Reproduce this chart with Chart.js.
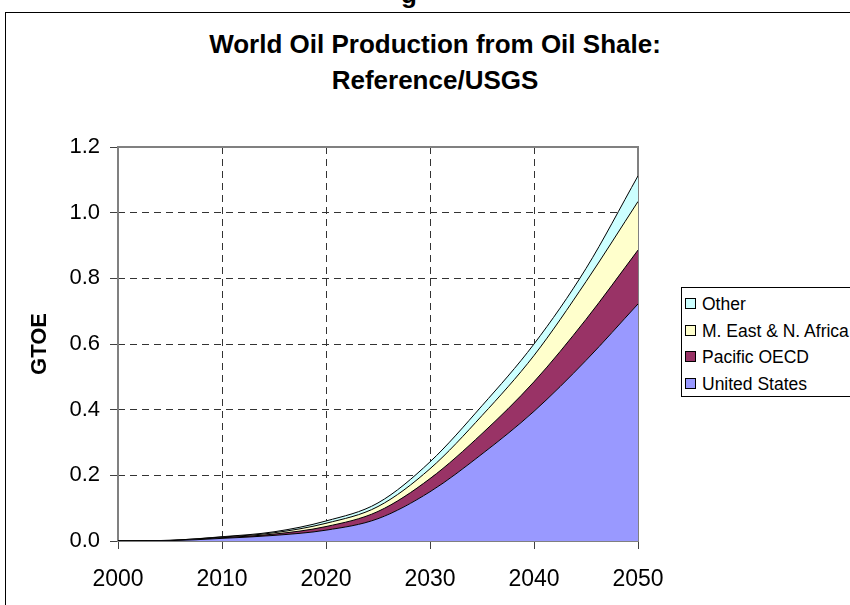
<!DOCTYPE html>
<html>
<head>
<meta charset="utf-8">
<script src="https://cdn.jsdelivr.net/npm/chart.js@4.4.1/dist/chart.umd.min.js"></script>
<style>
  body { margin: 0; width: 850px; height: 605px; overflow: hidden; background: #fff;
         font-family: "Liberation Sans", Arial, sans-serif; position: relative; }
  #cut { position: absolute; left: 401px; top: -21px; font-weight: bold; font-size: 26px; }
  #frame { position: absolute; left: 5px; top: 12px; width: 880px; height: 700px; border: 1px solid #000; }
  #title { position: absolute; left: 5px; width: 860px; top: 26px; text-align: center;
           font-weight: bold; font-size: 26px; line-height: 36px; }
  #chart { position: absolute; left: 0; top: 0; }
  #legend { position: absolute; left: 681px; top: 287px; width: 220px; height: 110px;
            border: 1px solid #000; background: #fff; padding-top: 3px; box-sizing: border-box; }
  #legend div { font-size: 17.5px; line-height: 26.5px; padding-left: 3px; white-space: nowrap; }
  #legend span { display: inline-block; width: 9px; height: 9px; border: 1px solid #000;
                 margin-right: 6px; vertical-align: 1px; }
</style>
</head>
<body>
<div id="cut">g</div>
<div id="frame"></div>
<div id="title">World Oil Production from Oil Shale:<br>Reference/USGS</div>
<canvas id="chart" width="850" height="605"></canvas>
<div id="legend"></div>
<script>
// values, GTOE per region (stacked)
const years = [2000, 2005, 2010, 2015, 2020, 2025, 2030, 2035, 2040, 2045, 2050];
const unitedStates = [0, 0.001, 0.008, 0.017, 0.033, 0.068, 0.150, 0.265, 0.395, 0.550, 0.722];
const pacificOECD  = [0, 0.000, 0.002, 0.004, 0.011, 0.022, 0.040, 0.062, 0.090, 0.125, 0.164];
const mEastAfrica  = [0, 0.001, 0.002, 0.004, 0.010, 0.015, 0.030, 0.055, 0.080, 0.115, 0.148];
const other        = [0, 0.000, 0.001, 0.003, 0.007, 0.011, 0.021, 0.030, 0.035, 0.040, 0.078];
const yTicks = [0, 0.2, 0.4, 0.6, 0.8, 1.0, 1.2];

Chart.defaults.font.family = '"Liberation Sans", Arial, sans-serif';
Chart.defaults.color = '#000';

function series(label, vals, color, fill) {
  return {
    label: label,
    data: years.map((y, i) => ({x: y, y: vals[i]})),
    backgroundColor: color,
    borderColor: '#000',
    borderWidth: 1,
    pointRadius: 0,
    fill: fill,
    cubicInterpolationMode: 'monotone'
  };
}

const datasets = [
  series('United States', unitedStates, '#9999FF', 'origin'),
  series('Pacific OECD', pacificOECD, '#993366', '-1'),
  series('M. East & N. Africa', mEastAfrica, '#FFFFCC', '-1'),
  series('Other', other, '#CCFFFF', '-1')
];

// grey frame round the plot area
const plotFrame = {
  id: 'plotFrame',
  beforeDatasetsDraw(chart) {
    const a = chart.chartArea, ctx = chart.ctx;
    ctx.save();
    ctx.strokeStyle = '#808080';
    ctx.lineWidth = 2;
    ctx.strokeRect(a.left, a.top, a.right - a.left, a.bottom - a.top);
    ctx.restore();
  }
};

const isEnd = (v, lo, hi) => Math.abs(v - lo) < 1e-6 || Math.abs(v - hi) < 1e-6;

new Chart(document.getElementById('chart'), {
  type: 'line',
  data: { datasets: datasets },
  plugins: [plotFrame],
  options: {
    responsive: false,
    animation: false,
    layout: { padding: { top: 147, left: 0, right: 212, bottom: 0 } },
    plugins: { legend: { display: false }, tooltip: { enabled: false }, title: { display: false } },
    scales: {
      x: {
        type: 'linear', min: 2000, max: 2050,
        ticks: { stepSize: 10, callback: v => String(v), font: { size: 23 }, padding: 17, maxRotation: 0 },
        grid: {
          color: c => (c.tick && isEnd(c.tick.value, 2000, 2050)) ? 'rgba(0,0,0,0)' : '#333',
          tickColor: '#404040', tickLength: 8, tickBorderDash: [], lineWidth: 1
        },
        border: { display: false, dash: [7, 5] },
        afterFit: s => { s.height = 64; }
      },
      y: {
        stacked: true, min: 0, max: 1.2,
        afterBuildTicks: s => { s.ticks = yTicks.map(v => ({value: v})); },
        ticks: { callback: v => v.toFixed(1), font: { size: 22 }, padding: 10 },
        grid: {
          color: c => (c.tick && isEnd(c.tick.value, 0, 1.2)) ? 'rgba(0,0,0,0)' : '#333',
          tickColor: '#404040', tickLength: 8, tickBorderDash: [], lineWidth: 1
        },
        border: { display: false, dash: [7, 5] },
        title: { display: true, text: 'GTOE', font: { size: 22, weight: 'bold' }, padding: { top: 27, bottom: 0 } },
        afterFit: s => { s.width = 118; }
      }
    }
  }
});

// legend, top row is the last series as in the original
const legend = document.getElementById('legend');
datasets.slice().reverse().forEach(d => {
  const row = document.createElement('div');
  row.innerHTML = '<span style="background:' + d.backgroundColor + '"></span>' + d.label;
  legend.appendChild(row);
});
</script>
</body>
</html>
